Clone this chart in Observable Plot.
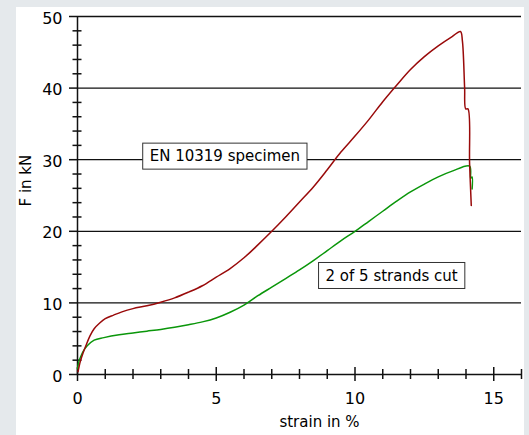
<!DOCTYPE html>
<html><head><meta charset="utf-8">
<script src="https://cdn.jsdelivr.net/npm/d3@7"></script>
<script src="https://cdn.jsdelivr.net/npm/@observablehq/plot@0.6"></script>
<style>
html,body{margin:0;padding:0;background:#e5e9ec;width:529px;height:435px;overflow:hidden;}
#panel{position:absolute;left:16px;top:7px;width:508px;height:428px;background:#fff;}
#chart{position:absolute;left:0;top:0;}
</style></head><body><div id="panel"></div><div id="chart"></div>
<script>
// EN 10319 specimen (strain %, force kN)
const specimenStrain = [0.02,0.1,0.2,0.3,0.45,0.6,0.8,1.0,1.3,1.6,2.0,2.5,3.0,3.5,4.0,4.5,5.0,5.5,6.0,6.5,7.0,7.5,8.0,8.5,9.0,9.5,10.0,10.5,11.0,11.5,12.0,12.5,13.0,13.5,13.8,13.87,13.95,13.99,14.07,14.13,14.19];
const specimenForce  = [0.4,1.8,3.0,4.0,5.4,6.4,7.2,7.8,8.3,8.75,9.2,9.6,10.1,10.7,11.5,12.4,13.6,14.8,16.3,18.1,20.0,22.0,24.1,26.2,28.6,31.1,33.3,35.6,38.1,40.4,42.6,44.4,45.9,47.2,47.9,46.6,40.1,37.1,37.1,29.4,23.6];
// 2 of 5 strands cut
const cutStrain = [0.0,0.05,0.11,0.2,0.35,0.6,0.95,1.5,2.0,2.5,3.0,3.5,4.0,4.5,5.0,5.5,6.0,6.5,7.0,7.5,8.0,8.5,9.0,9.5,10.0,10.5,11.0,11.5,12.0,12.5,13.0,13.5,14.13,14.17,14.22,14.22];
const cutForce   = [0.8,1.8,2.45,3.2,4.0,4.8,5.15,5.55,5.8,6.05,6.3,6.6,6.95,7.35,7.9,8.7,9.7,11.0,12.2,13.4,14.6,15.9,17.3,18.7,20.0,21.4,22.8,24.2,25.5,26.6,27.6,28.4,29.1,27.4,27.6,25.9];
// axis ticks
const xMajor = [0,5,10,15];
const xMinor = [1,2,3,4,6,7,8,9,11,12,13,14,16];
const yMajor = [0,10,20,30,40,50];
const yMinor = [2,4,6,8,12,14,16,18,22,24,26,28,32,34,36,38,42,44,46,48];
const yGrid = [10,20,30,40,50];
// annotations
const noteText = ["EN 10319 specimen","2 of 5 strands cut"];
const noteStrain = [5.31,11.32];
const noteForce = [30.47,13.8];

const specimen = specimenStrain.map((s,i)=>({s, f: specimenForce[i]}));
const cut = cutStrain.map((s,i)=>({s, f: cutForce[i]}));
const notes = noteText.map((t,i)=>({t, s: noteStrain[i], f: noteForce[i]}));

const chart = Plot.plot({
  width: 529, height: 435,
  marginTop: 16, marginRight: 8, marginBottom: 61, marginLeft: 77,
  x: {domain: [0,16], axis: null},
  y: {domain: [0,50], axis: null},
  style: {background: "transparent", fontFamily: "'DejaVu Sans', sans-serif", fontSize: "15px", color: "#000"},
  marks: [
    Plot.ruleY(yGrid, {x1: 0, x2: 16, stroke: "#111", strokeWidth: 1.3}),
    Plot.ruleY(yMajor, {x1: 0, x2: 0, insetLeft: -8, stroke: "#111", strokeWidth: 1.5}),
    Plot.ruleY(yMinor, {x1: 0, x2: 0, insetLeft: -4.5, insetRight: -4.5, stroke: "#111", strokeWidth: 1.5}),
    Plot.ruleX(xMajor, {y1: 0, y2: 0, insetTop: -7, insetBottom: -7, stroke: "#111", strokeWidth: 1.5}),
    Plot.ruleX(xMinor, {y1: 0, y2: 0, insetTop: -5, insetBottom: -5, stroke: "#111", strokeWidth: 1.5}),
    Plot.ruleY([0], {x1: 0, x2: 16, stroke: "#111", strokeWidth: 1.5}),
    Plot.ruleX([0], {y1: 0, y2: 50, stroke: "#111", strokeWidth: 1.5}),
    Plot.axisX(xMajor, {tickSize: 0, tickPadding: 18, label: null, fill: "#000", fontSize: 16}),
    Plot.axisY(yMajor, {tickSize: 0, tickPadding: 15, dy: 2, label: null, fill: "#000", fontSize: 16}),
    Plot.text(["strain in %"], {frameAnchor: "bottom", dx: 20, dy: 52, fill: "#000"}),
    Plot.text(["F in kN"], {frameAnchor: "left", rotate: -90, dx: -51, dy: 11, fill: "#000"}),
    Plot.line(cut, {x: "s", y: "f", stroke: "#0a960a", strokeWidth: 1.5, curve: "catmull-rom"}),
    Plot.line(specimen, {x: "s", y: "f", stroke: "#990a0a", strokeWidth: 1.5, curve: "catmull-rom"}),
    Plot.text(notes, {x: "s", y: "f", text: "t", fill: "#000", className: "note"})
  ]
});
document.getElementById("chart").appendChild(chart);

// draw framed boxes behind annotation texts
const svgNS = "http://www.w3.org/2000/svg";
chart.querySelectorAll("g.note text").forEach(t => {
  const bb = t.getBBox();
  const r = document.createElementNS(svgNS, "rect");
  const padX = 7, padY = 4;
  r.setAttribute("x", bb.x - padX);
  r.setAttribute("y", bb.y - padY);
  r.setAttribute("width", bb.width + 2*padX);
  r.setAttribute("height", bb.height + 2*padY);
  const tr = t.getAttribute("transform");
  if (tr) r.setAttribute("transform", tr);
  r.setAttribute("fill", "#fff");
  r.setAttribute("stroke", "#333");
  r.setAttribute("stroke-width", "1");
  t.parentNode.insertBefore(r, t);
});
</script></body></html>
